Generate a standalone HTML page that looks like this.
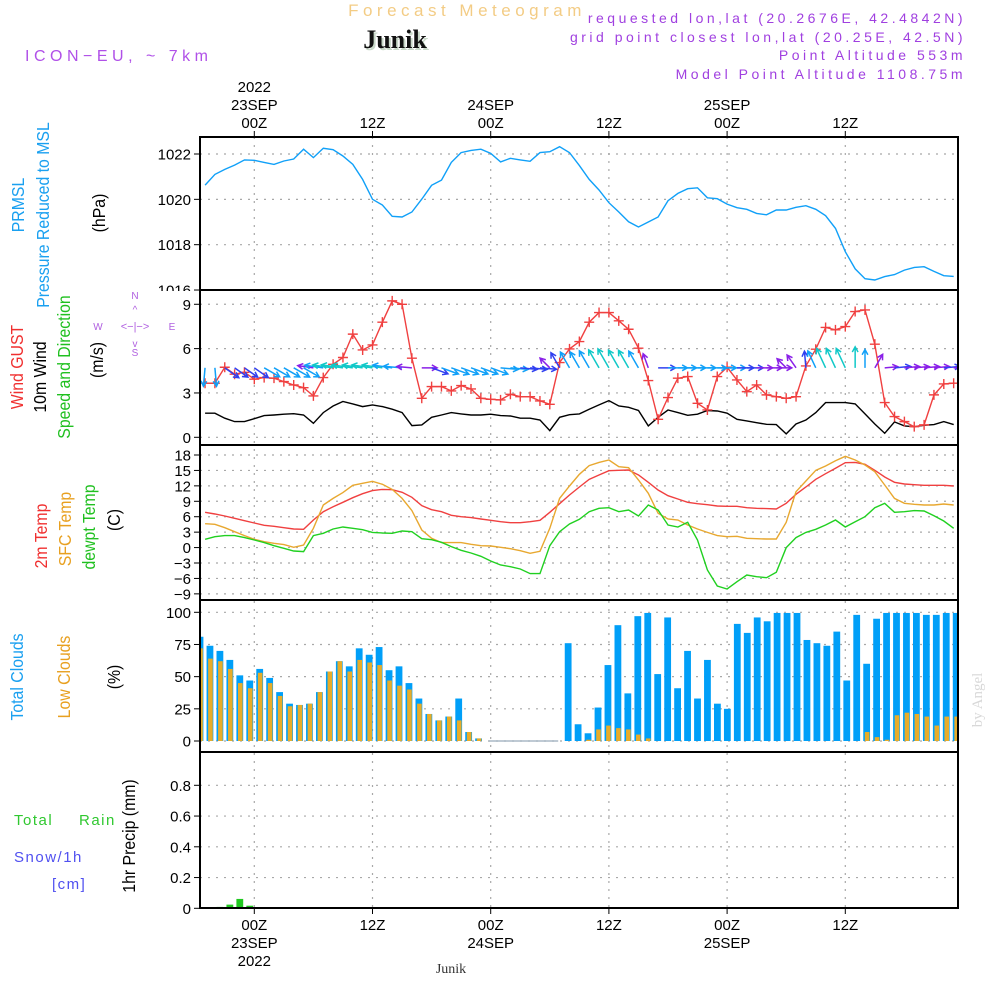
<!DOCTYPE html>
<html><head><meta charset="utf-8"><style>
body{margin:0;background:#fff;}
svg{display:block;font-family:"Liberation Sans",sans-serif;}
.t{font-size:15px;fill:#000;}
.n{font-family:"Liberation Sans",sans-serif;font-size:18px;}
</style></head><body>
<svg id="chart" width="1000" height="1000" viewBox="0 0 1000 1000" xmlns="http://www.w3.org/2000/svg">
<rect width="1000" height="1000" fill="#fff"/>
<text x="467" y="16" text-anchor="middle" font-size="17" letter-spacing="4.5" fill="#f3cc85">Forecast Meteogram</text>
<text x="397" y="50" text-anchor="middle" font-family="Liberation Serif,serif" font-weight="bold" font-size="26" fill="#c8d8c8">Junik</text>
<text x="395" y="48" text-anchor="middle" font-family="Liberation Serif,serif" font-weight="bold" font-size="26" fill="#111">Junik</text>
<text x="25" y="61" font-size="16" letter-spacing="4.5" fill="#b050e8">ICON−EU, ~ 7km</text>
<g font-size="14" letter-spacing="3.5" fill="#a040e0" text-anchor="end">
<text x="966" y="23">requested lon,lat (20.2676E, 42.4842N)</text>
<text x="966" y="42">grid point closest lon,lat (20.25E, 42.5N)</text>
<text x="966" y="60">Point Altitude 553m</text>
<text x="966" y="79">Model Point Altitude 1108.75m</text>
</g>
<g id="grid"></g>
<g id="marks"></g>
<g id="axes"></g>
<g class="n">
<text transform="translate(24,205) rotate(-90) scale(0.88,1)" text-anchor="middle" fill="#1aa0f0">PRMSL</text>
<text transform="translate(49,215) rotate(-90) scale(0.88,1)" text-anchor="middle" fill="#1aa0f0">Pressure Reduced to MSL</text>
<text transform="translate(105,213) rotate(-90) scale(0.88,1)" text-anchor="middle" fill="#000">(hPa)</text>
<text transform="translate(23,367) rotate(-90) scale(0.88,1)" text-anchor="middle" fill="#f03030">Wind GUST</text>
<text transform="translate(46,377) rotate(-90) scale(0.88,1)" text-anchor="middle" fill="#000">10m Wind</text>
<text transform="translate(70,367) rotate(-90) scale(0.88,1)" text-anchor="middle" fill="#20c020">Speed and Direction</text>
<text transform="translate(103,360) rotate(-90) scale(0.88,1)" text-anchor="middle" fill="#000">(m/s)</text>
<text transform="translate(47,536) rotate(-90) scale(0.88,1)" text-anchor="middle" fill="#f03030">2m Temp</text>
<text transform="translate(71,529) rotate(-90) scale(0.88,1)" text-anchor="middle" fill="#e8a020">SFC Temp</text>
<text transform="translate(95,527) rotate(-90) scale(0.88,1)" text-anchor="middle" fill="#20c020">dewpt Temp</text>
<text transform="translate(120,520) rotate(-90) scale(0.88,1)" text-anchor="middle" fill="#000">(C)</text>
<text transform="translate(23,677) rotate(-90) scale(0.88,1)" text-anchor="middle" fill="#1aa0f0">Total Clouds</text>
<text transform="translate(70,677) rotate(-90) scale(0.88,1)" text-anchor="middle" fill="#e8a020">Low Clouds</text>
<text transform="translate(120,677) rotate(-90) scale(0.88,1)" text-anchor="middle" fill="#000">(%)</text>
<text transform="translate(135,836) rotate(-90) scale(0.88,1)" text-anchor="middle" fill="#000">1hr Precip (mm)</text>
</g>
<g font-size="15" letter-spacing="1.5">
<text x="14" y="825" fill="#30c830">Total</text><text x="79" y="825" fill="#30c830">Rain</text>
<text x="14" y="862" fill="#5050f0">Snow/1h</text>
<text x="52" y="889" fill="#5050f0">[cm]</text>
</g>
<g font-size="10" fill="#b060e0" text-anchor="middle">
<text x="135" y="299">N</text><text x="135" y="356">S</text><text x="98" y="330">W</text><text x="172" y="330">E</text>
<text x="135" y="330" font-size="11">&lt;−|−&gt;</text>
<text x="135" y="313" font-size="10">^</text><text x="135" y="347" font-size="10">v</text>
</g>
<text transform="translate(982,700) rotate(-90)" text-anchor="middle" font-family="Liberation Serif,serif" font-size="15" fill="#d8d8d8">by Angel</text>
<text x="451" y="973" text-anchor="middle" font-family="Liberation Serif,serif" font-size="14" fill="#333">Junik</text>
</svg>
<script>
const hours=[-5,-4,-3,-2,-1,0,1,2,3,4,5,6,7,8,9,10,11,12,13,14,15,16,17,18,19,20,21,22,23,24,25,26,27,28,29,30,31,32,33,34,35,36,37,38,39,40,41,42,43,44,45,46,47,48,49,50,51,52,53,54,55,56,57,58,59,60,61,62,63,64,65,66,67,68,69,70,71];
const pressure=[1020.63,1021.10,1021.32,1021.51,1021.74,1021.72,1021.63,1021.54,1021.69,1021.78,1022.21,1021.84,1022.25,1022.19,1021.91,1021.54,1020.88,1020.0,1019.75,1019.25,1019.22,1019.44,1020.01,1020.62,1020.85,1021.63,1022.06,1022.16,1022.21,1022.03,1021.65,1021.81,1021.74,1021.68,1022.06,1022.10,1022.32,1022.06,1021.49,1020.88,1020.41,1019.85,1019.44,1019.01,1018.78,1019.0,1019.22,1019.94,1020.26,1020.47,1020.51,1020.07,1020.03,1019.79,1019.63,1019.56,1019.38,1019.32,1019.53,1019.53,1019.65,1019.72,1019.56,1019.28,1018.72,1017.69,1016.93,1016.5,1016.44,1016.59,1016.68,1016.88,1017.0,1017.03,1016.82,1016.63,1016.60];
const gust=[3.66,3.66,4.74,4.27,4.40,3.93,4.04,4.0,3.77,3.54,3.36,2.80,4.04,4.94,5.40,6.98,5.91,6.25,7.79,9.23,9.0,5.35,2.64,3.43,3.43,3.14,3.50,3.27,2.64,2.57,2.53,2.91,2.75,2.75,2.46,2.23,5.06,5.98,6.48,7.79,8.44,8.44,7.88,7.31,6.03,3.84,1.22,2.69,4.0,4.11,2.30,1.85,4.11,4.74,3.88,3.09,3.54,2.87,2.75,2.64,2.75,4.83,5.96,7.43,7.27,7.49,8.51,8.62,6.30,2.35,1.40,1.06,0.72,0.84,2.87,3.61,3.66];
const wind=[1.63,1.63,1.29,1.06,1.06,1.26,1.47,1.51,1.56,1.60,1.51,0.95,1.67,2.12,2.42,2.26,2.08,2.19,2.08,1.90,1.67,0.79,0.84,1.35,1.51,1.67,1.58,1.51,1.51,1.56,1.47,1.44,1.29,1.29,1.17,0.45,1.35,1.53,1.58,1.90,2.19,2.48,2.12,2.03,1.81,0.77,1.35,1.85,1.67,1.49,1.56,1.81,1.78,1.63,1.22,1.11,0.99,0.88,0.86,0.23,0.90,1.17,1.67,2.35,2.35,2.35,2.26,1.58,0.90,0.27,1.04,0.77,0.72,0.81,0.86,1.06,0.86];
const windDir=[95,85,35,35,35,35,30,30,30,30,30,188,188,188,188,188,188,188,188,188,185,185,0,20,20,20,20,20,20,20,5,5,5,5,5,225,240,240,240,240,240,240,240,240,240,250,0,0,0,0,0,0,0,0,0,0,0,0,0,225,235,265,245,245,245,245,270,270,300,355,355,355,355,355,355,355,355];
const temp2m=[6.85,6.53,6.14,5.69,5.23,4.78,4.33,4.13,3.87,3.61,3.55,5.36,6.98,7.95,8.80,9.70,10.48,11.07,11.32,11.26,10.74,9.77,8.15,7.37,6.98,6.27,6.01,5.82,5.56,5.30,5.04,4.84,4.84,5.04,5.30,6.85,8.54,10.22,11.78,13.27,14.11,14.95,15.02,15.08,14.11,12.69,11.20,10.09,9.45,8.80,8.54,8.34,8.08,8.02,8.02,7.76,7.63,7.57,7.50,8.60,10.35,11.78,13.27,14.37,15.41,16.51,16.57,16.19,15.02,13.72,12.69,12.36,12.23,12.10,12.10,12.10,11.97];
const tempSfc=[4.65,4.52,3.87,3.09,2.32,1.60,1.15,0.83,0.57,0.05,0.50,3.74,8.28,9.57,10.68,12.10,12.49,12.88,12.30,11.32,9.57,7.18,3.42,1.80,0.96,0.96,0.96,0.63,0.37,0.31,0.05,-0.21,-0.60,-1.12,-0.73,3.74,9.57,11.97,14.24,15.93,16.57,17.03,15.73,15.54,13.14,10.55,6.66,5.56,5.36,4.39,3.61,2.96,2.32,2.12,2.19,1.80,1.73,1.67,1.67,4.91,10.87,12.94,15.02,15.86,16.90,17.74,17.03,16.06,14.76,12.17,9.57,8.60,8.41,8.28,8.28,8.47,8.28];
const dewpt=[1.60,2.12,2.32,2.32,1.93,1.47,0.96,0.37,-0.15,-0.66,-0.79,2.32,2.77,3.61,4.0,3.74,3.48,2.96,2.83,2.77,3.22,3.09,1.73,1.54,1.02,0.18,-0.53,-1.05,-1.70,-2.61,-3.39,-3.71,-4.16,-5.07,-5.07,0.37,3.09,4.58,5.49,6.98,7.63,7.76,6.98,7.31,6.14,8.28,7.31,4.39,4.0,4.91,1.47,-4.36,-7.47,-8.05,-6.63,-5.33,-5.66,-5.85,-4.81,-0.02,1.93,2.96,3.55,4.39,5.36,4.0,5.04,6.01,7.76,8.60,6.85,6.98,7.18,7.11,6.20,5.17,3.74];
const totalClouds=[81,74,70,63,51,47,56,49,38,29,28,29,38,54,62,58,72,67,73,55,58,45,33,21,16,19,33,7,2,0,0,0,0,0,0,0,0,76,13,6,26,59,90,37,97,99.5,52,96,41,70,33,63,29,25,91,84,96,93,99.5,99.5,99.5,78.5,76,74,85,47,98,60,95,99.5,99.5,99.5,99.5,98,98,99.5,99.5];
const lowClouds=[72,64,62,56,45,41,53,45,35,27,28,29,38,54,62,54,63,61,59,47,43,40,29,21,16,19,16,7,2,0,0,0,0,0,0,0,0,0,0,1,9,12,10,9,5,2,0,0,0,0,0,0,0,0,0,0,0,0,0,0,0,0,0,0,0,0,0,7,3,1,20,22,21,19,12,19,19];
const precip=[0,0.001,0.009,0.024,0.061,0.017,0.002,0,0,0,0,0,0,0,0,0,0,0,0,0,0,0,0,0,0,0,0,0,0,0,0,0,0,0,0,0,0,0,0,0,0,0,0,0,0,0,0,0,0,0,0,0,0,0,0,0,0,0,0,0,0,0,0,0,0,0,0,0,0,0,0,0,0,0,0,0,0];
const timeTicks=[0,12,24,36,48,60];
const timeLabels=["00Z","12Z","00Z","12Z","00Z","12Z"];
const dateLabels=["23SEP","","24SEP","","25SEP",""];
const pTicks=[1016,1018,1020,1022];
const wTicks=[0,3,6,9];
const tTicks=[-9,-6,-3,0,3,6,9,12,15,18];
const cTicks=[0,25,50,75,100];
const rTicks=[0,0.2,0.4,0.6,0.8];

const NS="http://www.w3.org/2000/svg";
const L=200,R=958;
const xT=h=>254.3+9.85*h;
const xB=h=>200+9.95*(h+5);
const yP=v=>154+(1022-v)*22.67;
const yW=v=>437.3-v*14.78;
const yT=v=>455-(v-18)*5.143;
const yC=v=>741-v*1.287;
const yR=v=>908.3-v*153.75;
const panels=[[137,290],[290,445],[445,600],[600,752],[752,908]];
function el(tag,attrs,parent){const e=document.createElementNS(NS,tag);for(const k in attrs)e.setAttribute(k,attrs[k]);parent.appendChild(e);return e;}
const grid=document.getElementById('grid'),marks=document.getElementById('marks'),axes=document.getElementById('axes');
const defs=el('defs',{},document.getElementById('chart'));
panels.forEach((p,i)=>{const c=el('clipPath',{id:'cp'+i},defs);el('rect',{x:L,y:p[0],width:R-L,height:p[1]-p[0]},c);});
timeTicks.forEach((h,i)=>{
  const x=xT(h);
  const g=el('line',{x1:x,x2:x,y1:137,y2:908,stroke:'#a8a8a8','stroke-width':1.2,'stroke-dasharray':'2,6'},grid);
  
  
  el('line',{x1:x,x2:x,y1:131,y2:137,stroke:'#000'},axes);
  el('line',{x1:x,x2:x,y1:908,y2:914,stroke:'#000'},axes);
  const t=el('text',{x:x,y:128,'text-anchor':'middle',class:'t'},axes);t.textContent=timeLabels[i];
  
  
  const b=el('text',{x:x,y:930,'text-anchor':'middle',class:'t'},axes);b.textContent=timeLabels[i];
  
  
  if(dateLabels[i]){
    const d=el('text',{x:x,y:110,'text-anchor':'middle',class:'t'},axes);d.textContent=dateLabels[i];
    
    
    const d2=el('text',{x:x,y:948,'text-anchor':'middle',class:'t'},axes);d2.textContent=dateLabels[i];
    
    
  }
});
const y1=el('text',{x:xT(0),y:92,'text-anchor':'middle',class:'t'},axes);y1.textContent='2022';


const y2=el('text',{x:xT(0),y:966,'text-anchor':'middle',class:'t'},axes);y2.textContent='2022';


function yAxis(ticks,fy,fmt,clipTop){
  ticks.forEach(v=>{
    const y=fy(v);
    const g=el('line',{x1:L,x2:R,y1:y,y2:y,stroke:'#a8a8a8','stroke-width':1.2,'stroke-dasharray':'2,6'},grid);
    
    
    el('line',{x1:L-6,x2:L,y1:y,y2:y,stroke:'#000'},axes);
    const t=el('text',{x:L-9,y:y+5.5,'text-anchor':'end',class:'t'},axes);t.textContent=fmt(v);
    
    
    if(clipTop&&v===ticks[0])t.setAttribute('clip-path','url(#lblclip)');
  });
}
const lc=el('clipPath',{id:'lblclip'},defs);el('rect',{x:0,y:0,width:200,height:291},lc);
yAxis(pTicks,yP,v=>String(v),true);
yAxis(wTicks,yW,v=>String(v));
yAxis(tTicks,yT,v=>v<0?'−'+(-v):String(v));
yAxis(cTicks,yC,v=>String(v));
yAxis(rTicks,yR,v=>v===0?'0':v.toFixed(1));
function line(vals,fy,color,name,cp,w){
  const d=vals.map((v,i)=>(i?'L':'M')+xT(hours[i]).toFixed(1)+','+fy(v).toFixed(1)).join('');
  const p=el('path',{d:d,fill:'none',stroke:color,'stroke-width':w||1.4,'clip-path':'url(#cp'+cp+')'},marks);
  
  
}
line(pressure,yP,'#10a0f8','pressure-line',0);
line(wind,yW,'#000','wind-speed-line',1);
line(gust,yW,'#f04040','wind-gust-line',1);
gust.forEach((v,i)=>{
  const x=xT(hours[i]),y=yW(v);
  const m=el('path',{d:`M${x-5},${y}H${x+5}M${x},${y-5}V${y+5}`,stroke:'#f04040','stroke-width':1.4},marks);
  
  
});
windDir.forEach((a,i)=>{
  const s=wind[i];
  const col=s<1?'#8a20e8':s<1.4?'#3040f0':s<2?'#10a0f8':'#10c8c8';
  const len=12+4*s;
  const r=a*Math.PI/180;
  const x0=xT(hours[i]),y0=yW(4.7);
  const x1=x0+len*Math.cos(r),y1=y0+len*Math.sin(r);
  const h1=r+Math.PI-0.5,h2=r+Math.PI+0.5;
  const d=`M${x0},${y0}L${x1},${y1}M${x1+6*Math.cos(h1)},${y1+6*Math.sin(h1)}L${x1},${y1}L${x1+6*Math.cos(h2)},${y1+6*Math.sin(h2)}`;
  const p=el('path',{d:d,stroke:col,'stroke-width':1.5,fill:'none','clip-path':'url(#cp1)'},marks);
  
  
});
line(temp2m,yT,'#f04040','temp-2m-line',2);
line(tempSfc,yT,'#e8a830','temp-sfc-line',2);
line(dewpt,yT,'#20d020','dewpoint-line',2);
const zb=el('line',{x1:xB(24),x2:xB(31),y1:yC(0),y2:yC(0),stroke:'#9ab','stroke-width':1.2},marks);


totalClouds.forEach((v,i)=>{
  const x=xB(hours[i]);
  if(v>0){const b=el('rect',{x:x-3.4,y:yC(v),width:6.8,height:yC(0)-yC(v),fill:'#009ff8','clip-path':'url(#cp3)'},marks);
  
  }
  const lv=lowClouds[i];
  if(lv>0){const o=el('rect',{x:x-1.8,y:yC(lv),width:4.6,height:yC(0)-yC(lv),fill:'#e8ac28','clip-path':'url(#cp3)'},marks);
  
  }
});
precip.forEach((v,i)=>{
  if(v<=0)return;
  const x=xB(hours[i]);
  const b=el('rect',{x:x-3.4,y:yR(v),width:6.8,height:yR(0)-yR(v),fill:'#20c820'},marks);
  
  
});
panels.forEach(p=>{
  const f=el('rect',{x:L,y:p[0],width:R-L,height:p[1]-p[0],fill:'none',stroke:'#000','stroke-width':2},axes);
  
  
});
</script>
</body></html>
